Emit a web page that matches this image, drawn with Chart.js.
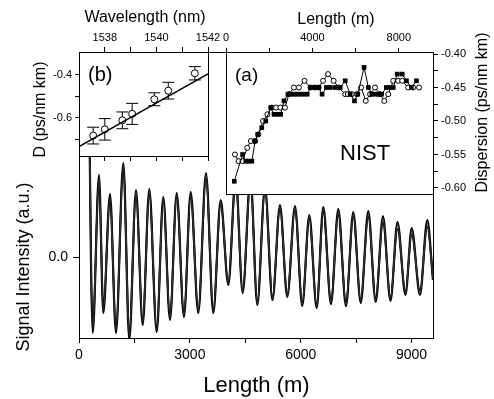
<!DOCTYPE html>
<html>
<head>
<meta charset="utf-8">
<script src="https://cdn.jsdelivr.net/npm/chart.js@4.4.0/dist/chart.umd.min.js"></script>
<style>
  body { margin: 0; background: #fff; }
  #wrap { position: relative; width: 494px; height: 399px; }
  #wrap canvas { position: absolute; left: 0; top: 0; }
</style>
</head>
<body>
<div id="wrap">
  <canvas id="mainChart" width="494" height="399"></canvas>
  <canvas id="insetB" width="494" height="399"></canvas>
  <canvas id="insetA" width="494" height="399"></canvas>
</div>
<script>
// ---------------- data: main panel (turning points of the traces) ----------------
const mainLength = [250, 371, 541, 658, 839, 1001, 1199, 1361, 1542, 1724, 1902, 2103, 2281, 2462, 2644,
  2841, 3022, 3228, 3437, 3634, 3834, 4040, 4240, 4430, 4640, 4825, 5033, 5236, 5439, 5637, 5845, 6042,
  6232, 6432, 6611, 6819, 7017, 7225, 7423, 7623, 7829, 8029, 8226, 8429, 8619, 8835, 9003, 9227, 9425, 9579];
const signalTrace1 = [2.3, -0.76, 0.82, -0.56, 0.63, -0.76, 0.94, -0.83, 0.67, -0.68, 0.68, -0.75, 0.60, -0.63, 0.64,
  -0.60, 0.65, -0.56, 0.84, -0.56, 0.57, -0.28, 0.80, -0.36, 0.80, -0.48, 0.70, -0.43, 0.52, -0.40, 0.51, -0.49,
  0.42, -0.51, 0.50, -0.47, 0.48, -0.49, 0.45, -0.46, 0.46, -0.45, 0.41, -0.44, 0.35, -0.38, 0.29, -0.38, 0.37, -0.23];
const signalTrace2 = [2.3, -0.68, 0.76, -0.50, 0.56, -0.70, 0.88, -0.74, 0.60, -0.62, 0.62, -0.70, 0.56, -0.58, 0.60,
  -0.56, 0.60, -0.52, 0.78, -0.52, 0.52, -0.24, 0.74, -0.33, 0.74, -0.44, 0.66, -0.40, 0.48, -0.37, 0.47, -0.45,
  0.38, -0.47, 0.45, -0.43, 0.42, -0.45, 0.40, -0.42, 0.40, -0.41, 0.34, -0.40, 0.28, -0.34, 0.22, -0.33, 0.30, -0.20];
const signalTrace3 = [2.3, -0.72, 0.79, -0.53, 0.60, -0.73, 0.91, -0.79, 0.64, -0.65, 0.65, -0.72, 0.58, -0.60, 0.62,
  -0.58, 0.62, -0.54, 0.81, -0.54, 0.55, -0.26, 0.77, -0.35, 0.77, -0.46, 0.68, -0.41, 0.50, -0.38, 0.49, -0.47,
  0.40, -0.49, 0.47, -0.45, 0.45, -0.47, 0.43, -0.44, 0.43, -0.43, 0.38, -0.42, 0.32, -0.36, 0.26, -0.36, 0.34, -0.22];
const mainXTicks = [0, 1500, 3000, 4500, 6000, 7500, 9000];
const mainYTicks = [0];

// ---------------- data: inset (a), dispersion vs length ----------------
const lenSquares = [383, 767, 920, 1058, 1196, 1350, 1472, 1656, 1840, 2070, 2223, 2376, 2530, 2683, 2867,
  3000, 3150, 3300, 3450, 3600, 3760, 3910, 4108, 4292, 4446, 4645, 4828, 5058, 5287, 5518, 5747, 5947,
  6100, 6391, 6591, 6744, 6897, 7050, 7203, 7420, 7587, 7740, 7924, 8154, 8352, 8580, 8813];
const dispSquares = [-0.59, -0.55, -0.56, -0.56, -0.56, -0.53, -0.52, -0.51, -0.50, -0.48, -0.49, -0.49, -0.49, -0.47, -0.46,
  -0.46, -0.46, -0.46, -0.46, -0.46, -0.46, -0.45, -0.45, -0.45, -0.46, -0.45, -0.45, -0.45, -0.45, -0.44, -0.46, -0.47,
  -0.46, -0.42, -0.45, -0.46, -0.46, -0.46, -0.46, -0.45, -0.45, -0.45, -0.43, -0.43, -0.44, -0.45, -0.44];
const lenCircles = [414, 582, 766, 981, 1150, 1334, 1500, 1717, 1916, 2116, 2320, 2520, 2729, 2913, 3143,
  3373, 3633, 3909, 4108, 4292, 4492, 4721, 4981, 5211, 5518, 5640, 5824, 6054, 6253, 6468, 6667, 6897,
  7127, 7326, 7510, 7740, 7970, 8154, 8430, 8660, 8936];
const dispCircles = [-0.55, -0.56, -0.56, -0.54, -0.53, -0.53, -0.52, -0.50, -0.49, -0.48, -0.48, -0.48, -0.48, -0.46, -0.45,
  -0.45, -0.44, -0.45, -0.45, -0.45, -0.44, -0.43, -0.44, -0.45, -0.46, -0.46, -0.46, -0.46, -0.45, -0.47, -0.46, -0.45,
  -0.46, -0.47, -0.46, -0.44, -0.44, -0.44, -0.45, -0.45, -0.45];
const aLengthTicks = [0, 2000, 4000, 6000, 8000];
const aDispTicks = [-0.6, -0.575, -0.55, -0.525, -0.5, -0.475, -0.45, -0.425, -0.4];

// ---------------- data: inset (b), D vs wavelength ----------------
const wavelength = [1537.55, 1538.0, 1538.68, 1539.06, 1539.92, 1540.46, 1541.49];
const dValues = [-0.682, -0.653, -0.611, -0.581, -0.513, -0.473, -0.392];
const dErrors = [0.039, 0.05, 0.039, 0.049, 0.03, 0.039, 0.031];
const fitWavelength = [1537, 1542];
const fitD = [-0.733, -0.395];
const bWaveTicks = [1538, 1539, 1540, 1541, 1542];
const bDTicks = [-0.7, -0.6, -0.5, -0.4];

Chart.defaults.font.family = '"Liberation Sans", Arial, sans-serif';
Chart.defaults.color = '#000';

const pts = (xs, ys) => xs.map((x, i) => ({ x: x, y: ys[i] }));
const fixTicks = list => scale => { scale.ticks = list.map(v => ({ value: v })); };

// frame around the plot area, white fill for insets, free text
const framePlugin = {
  id: 'frame',
  beforeDraw(chart, args, opts) {
    const a = chart.chartArea, ctx = chart.ctx;
    if (opts.fill) {
      ctx.save();
      ctx.fillStyle = opts.fill;
      ctx.fillRect(a.left, a.top, a.right - a.left, a.bottom - a.top);
      ctx.restore();
    }
  },
  afterDraw(chart, args, opts) {
    const a = chart.chartArea, ctx = chart.ctx;
    ctx.save();
    ctx.strokeStyle = '#000';
    ctx.lineWidth = 1;
    ctx.strokeRect(Math.round(a.left) + 0.5, Math.round(a.top) + 0.5,
      Math.round(a.right - a.left), Math.round(a.bottom - a.top));
    ctx.fillStyle = '#000';
    ctx.textBaseline = 'alphabetic';
    (opts.texts || []).forEach(t => {
      ctx.save();
      ctx.font = t.size + 'px "Liberation Sans", Arial, sans-serif';
      ctx.textAlign = t.align || 'center';
      ctx.translate(t.x, t.y);
      if (t.rot) ctx.rotate(-Math.PI / 2);
      ctx.fillText(t.text, 0, 0);
      ctx.restore();
    });
    ctx.restore();
  }
};

// error bars for inset (b)
const errorBars = {
  id: 'errorBars',
  beforeDatasetsDraw(chart) {
    const ctx = chart.ctx, xs = chart.scales.x, ys = chart.scales.y;
    ctx.save();
    ctx.strokeStyle = '#000';
    ctx.lineWidth = 1;
    wavelength.forEach((w, i) => {
      const px = xs.getPixelForValue(w);
      const top = ys.getPixelForValue(dValues[i] + dErrors[i]);
      const bot = ys.getPixelForValue(dValues[i] - dErrors[i]);
      ctx.beginPath();
      ctx.moveTo(px, top); ctx.lineTo(px, bot);
      ctx.moveTo(px - 6, top); ctx.lineTo(px + 6, top);
      ctx.moveTo(px - 6, bot); ctx.lineTo(px + 6, bot);
      ctx.stroke();
    });
    ctx.restore();
  }
};

const tickGrid = len => ({ drawOnChartArea: false, drawTicks: true, tickLength: len, color: '#000' });
const blackBorder = { display: true, color: '#000', width: 1 };

// ------------------ main chart ------------------
const traceStyle = (data, color, width) => ({
  data: data, borderColor: color, borderWidth: width, pointRadius: 0,
  cubicInterpolationMode: 'monotone', fill: false
});

new Chart(document.getElementById('mainChart'), {
  type: 'line',
  data: {
    datasets: [
      traceStyle(pts(mainLength, signalTrace3), '#333', 1.4),
      traceStyle(pts(mainLength, signalTrace2), '#000', 1.8),
      traceStyle(pts(mainLength, signalTrace1), '#000', 2.2)
    ]
  },
  options: {
    responsive: false,
    animation: false,
    layout: { autoPadding: false, padding: { left: 0, top: 52, right: 61, bottom: 0 } },
    plugins: {
      legend: { display: false },
      tooltip: { enabled: false },
      frame: {
        texts: [
          { text: 'Length (m)', x: 256.5, y: 392, size: 22 },
          { text: 'Signal Intensity (a.u.)', x: 29, y: 267, size: 18, rot: true }
        ]
      }
    },
    scales: {
      x: {
        type: 'linear', position: 'bottom', min: 0, max: 9580,
        afterBuildTicks: fixTicks(mainXTicks),
        afterFit: s => { s.height = 61; },
        grid: tickGrid(5), border: blackBorder,
        ticks: { font: { size: 14 }, padding: 4, maxRotation: 0, autoSkip: false,
          callback: v => (v % 3000 === 0 ? String(v) : '') }
      },
      y: {
        type: 'linear', position: 'left', min: -0.81, max: 2.05,
        afterBuildTicks: fixTicks(mainYTicks),
        afterFit: s => { s.width = 79; },
        grid: tickGrid(6), border: blackBorder,
        ticks: { font: { size: 14 }, padding: 5, callback: v => v.toFixed(1) }
      }
    }
  },
  plugins: [framePlugin]
});

// ------------------ inset (b) ------------------
new Chart(document.getElementById('insetB'), {
  type: 'scatter',
  data: {
    datasets: [
      {
        type: 'line', data: pts(fitWavelength, fitD), borderColor: '#000', borderWidth: 1.5,
        pointRadius: 0, fill: false
      },
      {
        data: pts(wavelength, dValues), pointRadius: 3.5, pointBackgroundColor: '#fff',
        pointBorderColor: '#000', pointBorderWidth: 1, showLine: false
      }
    ]
  },
  options: {
    responsive: false,
    animation: false,
    layout: { autoPadding: false, padding: { left: 0, top: 0, right: 286, bottom: 238 } },
    plugins: {
      legend: { display: false },
      tooltip: { enabled: false },
      frame: {
        fill: '#fff',
        texts: [
          { text: 'Wavelength (nm)', x: 145, y: 22, size: 16 },
          { text: 'D (ps/nm km)', x: 45, y: 109.5, size: 16, rot: true },
          { text: '(b)', x: 88, y: 81, size: 20, align: 'left' }
        ]
      }
    },
    scales: {
      x: {
        type: 'linear', position: 'top', min: 1537, max: 1542,
        afterBuildTicks: fixTicks(bWaveTicks),
        afterFit: s => { s.height = 52; },
        grid: tickGrid(5), border: blackBorder,
        ticks: { font: { size: 11 }, padding: 2, maxRotation: 0, autoSkip: false,
          callback: v => (v % 2 === 0 ? String(v) : '') }
      },
      xb: {
        type: 'linear', position: 'bottom', min: 1537, max: 1542,
        afterBuildTicks: fixTicks(bWaveTicks),
        afterFit: s => { s.height = 5; },
        grid: tickGrid(5), border: blackBorder,
        ticks: { display: false }
      },
      y: {
        type: 'linear', position: 'left', min: -0.777, max: -0.293,
        afterBuildTicks: fixTicks(bDTicks),
        afterFit: s => { s.width = 79; },
        grid: tickGrid(4), border: blackBorder,
        ticks: { font: { size: 11 }, padding: 3,
          callback: v => (Math.round(v * 10) % 2 === 0 ? v.toFixed(1) : '') }
      }
    }
  },
  plugins: [framePlugin, errorBars]
});

// ------------------ inset (a) ------------------
new Chart(document.getElementById('insetA'), {
  type: 'line',
  data: {
    datasets: [
      {
        data: pts(lenSquares, dispSquares), borderColor: '#000', borderWidth: 1,
        pointStyle: 'rect', pointRadius: 3.3, pointBackgroundColor: '#000', pointBorderColor: '#000',
        pointBorderWidth: 0, fill: false
      },
      {
        data: pts(lenCircles, dispCircles), borderColor: '#000', borderWidth: 1,
        pointStyle: 'circle', pointRadius: 2.5, pointBackgroundColor: '#fff', pointBorderColor: '#000',
        pointBorderWidth: 1, fill: false
      }
    ]
  },
  options: {
    responsive: false,
    animation: false,
    layout: { autoPadding: false, padding: { left: 226, top: 0, right: 0, bottom: 205 } },
    plugins: {
      legend: { display: false },
      tooltip: { enabled: false },
      frame: {
        fill: '#fff',
        texts: [
          { text: 'Length (m)', x: 336, y: 24, size: 16 },
          { text: 'Dispersion (ps/nm km)', x: 487, y: 112.5, size: 16, rot: true },
          { text: '(a)', x: 235, y: 81, size: 19, align: 'left' },
          { text: 'NIST', x: 340, y: 160, size: 22, align: 'left' }
        ]
      }
    },
    scales: {
      x: {
        type: 'linear', position: 'top', min: 0, max: 9580,
        afterBuildTicks: fixTicks(aLengthTicks),
        afterFit: s => { s.height = 52; },
        grid: tickGrid(4), border: blackBorder,
        ticks: { font: { size: 11 }, padding: 3, maxRotation: 0, autoSkip: false,
          callback: v => (v % 4000 === 0 ? String(v) : '') }
      },
      y: {
        type: 'linear', position: 'right', min: -0.609, max: -0.397,
        afterBuildTicks: fixTicks(aDispTicks),
        afterFit: s => { s.width = 61; },
        grid: tickGrid(5), border: blackBorder,
        ticks: { font: { size: 11 }, padding: 3,
          callback: v => (Math.round(v * 1000) % 50 === 0 ? v.toFixed(2) : '') }
      }
    }
  },
  plugins: [framePlugin]
});
</script>
</body>
</html>
